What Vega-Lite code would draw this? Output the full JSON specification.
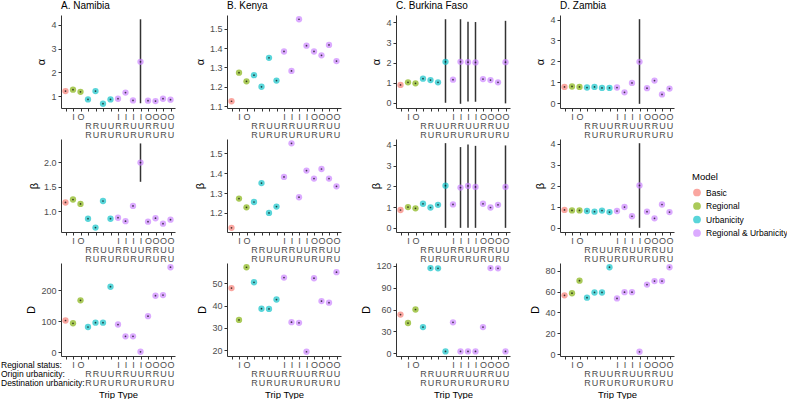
{
"$schema":"https://vega.github.io/schema/vega-lite/v6.json",
"padding":{"left":0,"top":1,"right":0,"bottom":0},
"background":"white",
"datasets":{
"trips":[{"t":1,"m":"Basic"},{"t":2,"m":"Regional"},{"t":3,"m":"Regional"},{"t":4,"m":"Urbanicity"},{"t":5,"m":"Urbanicity"},{"t":6,"m":"Urbanicity"},{"t":7,"m":"Urbanicity"},{"t":8,"m":"Regional & Urbanicity"},{"t":9,"m":"Regional & Urbanicity"},{"t":10,"m":"Regional & Urbanicity"},{"t":11,"m":"Regional & Urbanicity"},{"t":12,"m":"Regional & Urbanicity"},{"t":13,"m":"Regional & Urbanicity"},{"t":14,"m":"Regional & Urbanicity"},{"t":15,"m":"Regional & Urbanicity"}],
"vals":[
{"c":"Namibia","p":"a","t":1,"v":1.21},{"c":"Namibia","p":"a","t":2,"v":1.27},{"c":"Namibia","p":"a","t":3,"v":1.18},{"c":"Namibia","p":"a","t":4,"v":0.86},{"c":"Namibia","p":"a","t":5,"v":1.21},{"c":"Namibia","p":"a","t":6,"v":0.68},{"c":"Namibia","p":"a","t":7,"v":0.86},{"c":"Namibia","p":"a","t":8,"v":0.89},{"c":"Namibia","p":"a","t":9,"v":1.15},{"c":"Namibia","p":"a","t":10,"v":0.82},{"c":"Namibia","p":"a","t":11,"v":2.44,"lo":0.70,"hi":4.23},{"c":"Namibia","p":"a","t":12,"v":0.81},{"c":"Namibia","p":"a","t":13,"v":0.79},{"c":"Namibia","p":"a","t":14,"v":0.89},{"c":"Namibia","p":"a","t":15,"v":0.85},
{"c":"Namibia","p":"b","t":1,"v":1.18},{"c":"Namibia","p":"b","t":2,"v":1.24},{"c":"Namibia","p":"b","t":3,"v":1.15},{"c":"Namibia","p":"b","t":4,"v":0.85},{"c":"Namibia","p":"b","t":5,"v":0.67},{"c":"Namibia","p":"b","t":6,"v":1.21},{"c":"Namibia","p":"b","t":7,"v":0.85},{"c":"Namibia","p":"b","t":8,"v":0.87},{"c":"Namibia","p":"b","t":9,"v":0.80},{"c":"Namibia","p":"b","t":10,"v":1.11},{"c":"Namibia","p":"b","t":11,"v":1.99,"lo":1.60,"hi":2.38},{"c":"Namibia","p":"b","t":12,"v":0.79},{"c":"Namibia","p":"b","t":13,"v":0.86},{"c":"Namibia","p":"b","t":14,"v":0.75},{"c":"Namibia","p":"b","t":15,"v":0.83},
{"c":"Namibia","p":"D","t":1,"v":103},{"c":"Namibia","p":"D","t":2,"v":94},{"c":"Namibia","p":"D","t":3,"v":168},{"c":"Namibia","p":"D","t":4,"v":82},{"c":"Namibia","p":"D","t":5,"v":96},{"c":"Namibia","p":"D","t":6,"v":96},{"c":"Namibia","p":"D","t":7,"v":212},{"c":"Namibia","p":"D","t":8,"v":90},{"c":"Namibia","p":"D","t":9,"v":52},{"c":"Namibia","p":"D","t":10,"v":52},{"c":"Namibia","p":"D","t":11,"v":2},{"c":"Namibia","p":"D","t":12,"v":117},{"c":"Namibia","p":"D","t":13,"v":183},{"c":"Namibia","p":"D","t":14,"v":185},{"c":"Namibia","p":"D","t":15,"v":275},
{"c":"Kenya","p":"a","t":1,"v":1.125},{"c":"Kenya","p":"a","t":2,"v":1.273},{"c":"Kenya","p":"a","t":3,"v":1.228},{"c":"Kenya","p":"a","t":4,"v":1.26},{"c":"Kenya","p":"a","t":5,"v":1.20},{"c":"Kenya","p":"a","t":6,"v":1.35},{"c":"Kenya","p":"a","t":7,"v":1.232},{"c":"Kenya","p":"a","t":8,"v":1.383},{"c":"Kenya","p":"a","t":9,"v":1.282},{"c":"Kenya","p":"a","t":10,"v":1.55},{"c":"Kenya","p":"a","t":11,"v":1.413},{"c":"Kenya","p":"a","t":12,"v":1.383},{"c":"Kenya","p":"a","t":13,"v":1.363},{"c":"Kenya","p":"a","t":14,"v":1.417},{"c":"Kenya","p":"a","t":15,"v":1.333},
{"c":"Kenya","p":"b","t":1,"v":1.125},{"c":"Kenya","p":"b","t":2,"v":1.272},{"c":"Kenya","p":"b","t":3,"v":1.228},{"c":"Kenya","p":"b","t":4,"v":1.255},{"c":"Kenya","p":"b","t":5,"v":1.35},{"c":"Kenya","p":"b","t":6,"v":1.20},{"c":"Kenya","p":"b","t":7,"v":1.232},{"c":"Kenya","p":"b","t":8,"v":1.381},{"c":"Kenya","p":"b","t":9,"v":1.55},{"c":"Kenya","p":"b","t":10,"v":1.279},{"c":"Kenya","p":"b","t":11,"v":1.413},{"c":"Kenya","p":"b","t":12,"v":1.373},{"c":"Kenya","p":"b","t":13,"v":1.421},{"c":"Kenya","p":"b","t":14,"v":1.373},{"c":"Kenya","p":"b","t":15,"v":1.334},
{"c":"Kenya","p":"D","t":1,"v":47.8},{"c":"Kenya","p":"D","t":2,"v":33.6},{"c":"Kenya","p":"D","t":3,"v":57.1},{"c":"Kenya","p":"D","t":4,"v":50.4},{"c":"Kenya","p":"D","t":5,"v":38.6},{"c":"Kenya","p":"D","t":6,"v":38.5},{"c":"Kenya","p":"D","t":7,"v":42.7},{"c":"Kenya","p":"D","t":8,"v":52.5},{"c":"Kenya","p":"D","t":9,"v":32.6},{"c":"Kenya","p":"D","t":10,"v":32.3},{"c":"Kenya","p":"D","t":11,"v":19.4},{"c":"Kenya","p":"D","t":12,"v":52.2},{"c":"Kenya","p":"D","t":13,"v":42.0},{"c":"Kenya","p":"D","t":14,"v":41.3},{"c":"Kenya","p":"D","t":15,"v":54.9},
{"c":"Burkina","p":"a","t":1,"v":0.89},{"c":"Burkina","p":"a","t":2,"v":1.02},{"c":"Burkina","p":"a","t":3,"v":0.97},{"c":"Burkina","p":"a","t":4,"v":1.20},{"c":"Burkina","p":"a","t":5,"v":1.13},{"c":"Burkina","p":"a","t":6,"v":1.02},{"c":"Burkina","p":"a","t":7,"v":2.04,"lo":0.0,"hi":4.16},{"c":"Burkina","p":"a","t":8,"v":1.15},{"c":"Burkina","p":"a","t":9,"v":2.04,"lo":-0.05,"hi":4.16},{"c":"Burkina","p":"a","t":10,"v":2.02,"lo":0.06,"hi":4.03},{"c":"Burkina","p":"a","t":11,"v":2.01,"lo":0.05,"hi":4.02},{"c":"Burkina","p":"a","t":12,"v":1.18},{"c":"Burkina","p":"a","t":13,"v":1.13},{"c":"Burkina","p":"a","t":14,"v":1.02},{"c":"Burkina","p":"a","t":15,"v":2.02,"lo":-0.03,"hi":4.08},
{"c":"Burkina","p":"b","t":1,"v":0.86},{"c":"Burkina","p":"b","t":2,"v":1.0},{"c":"Burkina","p":"b","t":3,"v":0.94},{"c":"Burkina","p":"b","t":4,"v":1.16},{"c":"Burkina","p":"b","t":5,"v":0.98},{"c":"Burkina","p":"b","t":6,"v":1.11},{"c":"Burkina","p":"b","t":7,"v":2.03,"lo":0.0,"hi":4.08},{"c":"Burkina","p":"b","t":8,"v":1.13},{"c":"Burkina","p":"b","t":9,"v":1.94,"lo":0.0,"hi":3.89},{"c":"Burkina","p":"b","t":10,"v":2.02,"lo":0.0,"hi":4.02},{"c":"Burkina","p":"b","t":11,"v":1.97,"lo":0.0,"hi":3.95},{"c":"Burkina","p":"b","t":12,"v":1.16},{"c":"Burkina","p":"b","t":13,"v":0.98},{"c":"Burkina","p":"b","t":14,"v":1.11},{"c":"Burkina","p":"b","t":15,"v":1.97,"lo":0.0,"hi":3.97},
{"c":"Burkina","p":"D","t":1,"v":53},{"c":"Burkina","p":"D","t":2,"v":41.4},{"c":"Burkina","p":"D","t":3,"v":60},{"c":"Burkina","p":"D","t":4,"v":35.8},{"c":"Burkina","p":"D","t":5,"v":117},{"c":"Burkina","p":"D","t":6,"v":116.7},{"c":"Burkina","p":"D","t":7,"v":2.3},{"c":"Burkina","p":"D","t":8,"v":42.3},{"c":"Burkina","p":"D","t":9,"v":2.3},{"c":"Burkina","p":"D","t":10,"v":2.3},{"c":"Burkina","p":"D","t":11,"v":2.3},{"c":"Burkina","p":"D","t":12,"v":35.8},{"c":"Burkina","p":"D","t":13,"v":117},{"c":"Burkina","p":"D","t":14,"v":116.7},{"c":"Burkina","p":"D","t":15,"v":2.3},
{"c":"Zambia","p":"a","t":1,"v":0.78},{"c":"Zambia","p":"a","t":2,"v":0.80},{"c":"Zambia","p":"a","t":3,"v":0.78},{"c":"Zambia","p":"a","t":4,"v":0.75},{"c":"Zambia","p":"a","t":5,"v":0.78},{"c":"Zambia","p":"a","t":6,"v":0.73},{"c":"Zambia","p":"a","t":7,"v":0.73},{"c":"Zambia","p":"a","t":8,"v":0.75},{"c":"Zambia","p":"a","t":9,"v":0.52},{"c":"Zambia","p":"a","t":10,"v":0.97},{"c":"Zambia","p":"a","t":11,"v":1.98,"lo":-0.03,"hi":4.02},{"c":"Zambia","p":"a","t":12,"v":0.72},{"c":"Zambia","p":"a","t":13,"v":1.08},{"c":"Zambia","p":"a","t":14,"v":0.42},{"c":"Zambia","p":"a","t":15,"v":0.70},
{"c":"Zambia","p":"b","t":1,"v":0.85},{"c":"Zambia","p":"b","t":2,"v":0.83},{"c":"Zambia","p":"b","t":3,"v":0.83},{"c":"Zambia","p":"b","t":4,"v":0.80},{"c":"Zambia","p":"b","t":5,"v":0.77},{"c":"Zambia","p":"b","t":6,"v":0.82},{"c":"Zambia","p":"b","t":7,"v":0.75},{"c":"Zambia","p":"b","t":8,"v":0.80},{"c":"Zambia","p":"b","t":9,"v":0.99},{"c":"Zambia","p":"b","t":10,"v":0.55},{"c":"Zambia","p":"b","t":11,"v":2.02,"lo":0.0,"hi":4.03},{"c":"Zambia","p":"b","t":12,"v":0.77},{"c":"Zambia","p":"b","t":13,"v":0.45},{"c":"Zambia","p":"b","t":14,"v":1.11},{"c":"Zambia","p":"b","t":15,"v":0.75},
{"c":"Zambia","p":"D","t":1,"v":56.4},{"c":"Zambia","p":"D","t":2,"v":58.4},{"c":"Zambia","p":"D","t":3,"v":70.4},{"c":"Zambia","p":"D","t":4,"v":54.1},{"c":"Zambia","p":"D","t":5,"v":59.1},{"c":"Zambia","p":"D","t":6,"v":59.1},{"c":"Zambia","p":"D","t":7,"v":83.3},{"c":"Zambia","p":"D","t":8,"v":53.4},{"c":"Zambia","p":"D","t":9,"v":59.4},{"c":"Zambia","p":"D","t":10,"v":59.4},{"c":"Zambia","p":"D","t":11,"v":2.3},{"c":"Zambia","p":"D","t":12,"v":66.7},{"c":"Zambia","p":"D","t":13,"v":70.0},{"c":"Zambia","p":"D","t":14,"v":70.0},{"c":"Zambia","p":"D","t":15,"v":83.3}
]},
"data":{"name":"vals"},
"transform":[{"lookup":"t","from":{"data":{"name":"trips"},"key":"t","fields":["m"]}}],
"columns":4,
"align":"each",
"spacing":{"row":-2,"column":19},
"concat":[
{"title":"A. Namibia","width":114,"height":93,"transform":[{"filter":"datum.c=='Namibia'&&datum.p=='a'"}],
 "encoding":{"x":{"field":"t","type":"ordinal","scale":{"type":"point","padding":0.6},"axis":{"title":null,"labelExpr":"[['','',''],['I','',''],['O','',''],['','R','R'],['','R','U'],['','U','R'],['','U','U'],['I','R','R'],['I','R','U'],['I','U','R'],['I','U','U'],['O','R','R'],['O','R','U'],['O','U','R'],['O','U','U']][datum.value-1]"}},
  "y":{"field":"v","type":"quantitative","scale":{"domain":[0.5,4.41],"nice":false,"zero":false},"axis":{"title":"α","values":[1,2,3,4]}}},
 "layer":[
  {"transform":[{"filter":"isValid(datum.lo)"}],"mark":{"type":"rule","color":"#333333","strokeWidth":1.5},"encoding":{"y":{"field":"lo","type":"quantitative","scale":{"domain":[0.5,4.41],"nice":false,"zero":false},"axis":{"title":"α","values":[1,2,3,4]}},"y2":{"field":"hi"}}},
  {"mark":{"type":"point","filled":true,"size":40,"opacity":0.65},"encoding":{"color":{"field":"m","type":"nominal","scale":{"domain":["Basic","Regional","Urbanicity","Regional & Urbanicity"],"range":["#F8766D","#7CAE00","#00BFC4","#C77CFF"]},"legend":{"title":"Model","orient":"none","legendX":631,"legendY":157}}}},
  {"mark":{"type":"point","filled":true,"size":3,"color":"#000000","opacity":0.7}}
 ]},
{"title":"B. Kenya","width":114,"height":93,"transform":[{"filter":"datum.c=='Kenya'&&datum.p=='a'"}],
 "encoding":{"x":{"field":"t","type":"ordinal","scale":{"type":"point","padding":0.6},"axis":{"title":null,"labelExpr":"[['','',''],['I','',''],['O','',''],['','R','R'],['','R','U'],['','U','R'],['','U','U'],['I','R','R'],['I','R','U'],['I','U','R'],['I','U','U'],['O','R','R'],['O','R','U'],['O','U','R'],['O','U','U']][datum.value-1]"}},
  "y":{"field":"v","type":"quantitative","scale":{"domain":[1.09,1.572],"nice":false,"zero":false},"axis":{"title":"α","values":[1.1,1.2,1.3,1.4,1.5],"format":".1f"}}},
 "layer":[
  {"mark":{"type":"point","filled":true,"size":40,"opacity":0.65},"encoding":{"color":{"field":"m","type":"nominal","scale":{"domain":["Basic","Regional","Urbanicity","Regional & Urbanicity"],"range":["#F8766D","#7CAE00","#00BFC4","#C77CFF"]},"legend":{"title":"Model","orient":"none","legendX":631,"legendY":157}}}},
  {"mark":{"type":"point","filled":true,"size":3,"color":"#000000","opacity":0.7}}
 ]},
{"title":"C. Burkina Faso","width":114,"height":93,"transform":[{"filter":"datum.c=='Burkina'&&datum.p=='a'"}],
 "encoding":{"x":{"field":"t","type":"ordinal","scale":{"type":"point","padding":0.6},"axis":{"title":null,"labelExpr":"[['','',''],['I','',''],['O','',''],['','R','R'],['','R','U'],['','U','R'],['','U','U'],['I','R','R'],['I','R','U'],['I','U','R'],['I','U','U'],['O','R','R'],['O','R','U'],['O','U','R'],['O','U','U']][datum.value-1]"}},
  "y":{"field":"v","type":"quantitative","scale":{"domain":[-0.26,4.37],"nice":false,"zero":false},"axis":{"title":"α","values":[0,1,2,3,4]}}},
 "layer":[
  {"transform":[{"filter":"isValid(datum.lo)"}],"mark":{"type":"rule","color":"#333333","strokeWidth":1.5},"encoding":{"y":{"field":"lo","type":"quantitative","scale":{"domain":[-0.26,4.37],"nice":false,"zero":false},"axis":{"title":"α","values":[0,1,2,3,4]}},"y2":{"field":"hi"}}},
  {"mark":{"type":"point","filled":true,"size":40,"opacity":0.65},"encoding":{"color":{"field":"m","type":"nominal","scale":{"domain":["Basic","Regional","Urbanicity","Regional & Urbanicity"],"range":["#F8766D","#7CAE00","#00BFC4","#C77CFF"]},"legend":{"title":"Model","orient":"none","legendX":631,"legendY":157}}}},
  {"mark":{"type":"point","filled":true,"size":3,"color":"#000000","opacity":0.7}}
 ]},
{"title":"D. Zambia","width":114,"height":93,"transform":[{"filter":"datum.c=='Zambia'&&datum.p=='a'"}],
 "encoding":{"x":{"field":"t","type":"ordinal","scale":{"type":"point","padding":0.6},"axis":{"title":null,"labelExpr":"[['','',''],['I','',''],['O','',''],['','R','R'],['','R','U'],['','U','R'],['','U','U'],['I','R','R'],['I','R','U'],['I','U','R'],['I','U','U'],['O','R','R'],['O','R','U'],['O','U','R'],['O','U','U']][datum.value-1]"}},
  "y":{"field":"v","type":"quantitative","scale":{"domain":[-0.23,4.22],"nice":false,"zero":false},"axis":{"title":"α","values":[0,1,2,3,4]}}},
 "layer":[
  {"transform":[{"filter":"isValid(datum.lo)"}],"mark":{"type":"rule","color":"#333333","strokeWidth":1.5},"encoding":{"y":{"field":"lo","type":"quantitative","scale":{"domain":[-0.23,4.22],"nice":false,"zero":false},"axis":{"title":"α","values":[0,1,2,3,4]}},"y2":{"field":"hi"}}},
  {"mark":{"type":"point","filled":true,"size":40,"opacity":0.65},"encoding":{"color":{"field":"m","type":"nominal","scale":{"domain":["Basic","Regional","Urbanicity","Regional & Urbanicity"],"range":["#F8766D","#7CAE00","#00BFC4","#C77CFF"]},"legend":{"title":"Model","orient":"none","legendX":631,"legendY":157}}}},
  {"mark":{"type":"point","filled":true,"size":3,"color":"#000000","opacity":0.7}}
 ]},
{"width":114,"height":93,"transform":[{"filter":"datum.c=='Namibia'&&datum.p=='b'"}],
 "encoding":{"x":{"field":"t","type":"ordinal","scale":{"type":"point","padding":0.6},"axis":{"title":null,"labelExpr":"[['','',''],['I','',''],['O','',''],['','R','R'],['','R','U'],['','U','R'],['','U','U'],['I','R','R'],['I','R','U'],['I','U','R'],['I','U','U'],['O','R','R'],['O','R','U'],['O','U','R'],['O','U','U']][datum.value-1]"}},
  "y":{"field":"v","type":"quantitative","scale":{"domain":[0.58,2.47],"nice":false,"zero":false},"axis":{"title":"β","values":[1,1.5,2],"format":".1f"}}},
 "layer":[
  {"transform":[{"filter":"isValid(datum.lo)"}],"mark":{"type":"rule","color":"#333333","strokeWidth":1.5},"encoding":{"y":{"field":"lo","type":"quantitative","scale":{"domain":[0.58,2.47],"nice":false,"zero":false},"axis":{"title":"β","values":[1,1.5,2],"format":".1f"}},"y2":{"field":"hi"}}},
  {"mark":{"type":"point","filled":true,"size":40,"opacity":0.65},"encoding":{"color":{"field":"m","type":"nominal","scale":{"domain":["Basic","Regional","Urbanicity","Regional & Urbanicity"],"range":["#F8766D","#7CAE00","#00BFC4","#C77CFF"]},"legend":{"title":"Model","orient":"none","legendX":631,"legendY":157}}}},
  {"mark":{"type":"point","filled":true,"size":3,"color":"#000000","opacity":0.7}}
 ]},
{"width":114,"height":93,"transform":[{"filter":"datum.c=='Kenya'&&datum.p=='b'"}],
 "encoding":{"x":{"field":"t","type":"ordinal","scale":{"type":"point","padding":0.6},"axis":{"title":null,"labelExpr":"[['','',''],['I','',''],['O','',''],['','R','R'],['','R','U'],['','U','R'],['','U','U'],['I','R','R'],['I','R','U'],['I','U','R'],['I','U','U'],['O','R','R'],['O','R','U'],['O','U','R'],['O','U','U']][datum.value-1]"}},
  "y":{"field":"v","type":"quantitative","scale":{"domain":[1.104,1.572],"nice":false,"zero":false},"axis":{"title":"β","values":[1.2,1.3,1.4,1.5],"format":".1f"}}},
 "layer":[
  {"mark":{"type":"point","filled":true,"size":40,"opacity":0.65},"encoding":{"color":{"field":"m","type":"nominal","scale":{"domain":["Basic","Regional","Urbanicity","Regional & Urbanicity"],"range":["#F8766D","#7CAE00","#00BFC4","#C77CFF"]},"legend":{"title":"Model","orient":"none","legendX":631,"legendY":157}}}},
  {"mark":{"type":"point","filled":true,"size":3,"color":"#000000","opacity":0.7}}
 ]},
{"width":114,"height":93,"transform":[{"filter":"datum.c=='Burkina'&&datum.p=='b'"}],
 "encoding":{"x":{"field":"t","type":"ordinal","scale":{"type":"point","padding":0.6},"axis":{"title":null,"labelExpr":"[['','',''],['I','',''],['O','',''],['','R','R'],['','R','U'],['','U','R'],['','U','U'],['I','R','R'],['I','R','U'],['I','U','R'],['I','U','U'],['O','R','R'],['O','R','U'],['O','U','R'],['O','U','U']][datum.value-1]"}},
  "y":{"field":"v","type":"quantitative","scale":{"domain":[-0.2,4.28],"nice":false,"zero":false},"axis":{"title":"β","values":[0,1,2,3,4]}}},
 "layer":[
  {"transform":[{"filter":"isValid(datum.lo)"}],"mark":{"type":"rule","color":"#333333","strokeWidth":1.5},"encoding":{"y":{"field":"lo","type":"quantitative","scale":{"domain":[-0.2,4.28],"nice":false,"zero":false},"axis":{"title":"β","values":[0,1,2,3,4]}},"y2":{"field":"hi"}}},
  {"mark":{"type":"point","filled":true,"size":40,"opacity":0.65},"encoding":{"color":{"field":"m","type":"nominal","scale":{"domain":["Basic","Regional","Urbanicity","Regional & Urbanicity"],"range":["#F8766D","#7CAE00","#00BFC4","#C77CFF"]},"legend":{"title":"Model","orient":"none","legendX":631,"legendY":157}}}},
  {"mark":{"type":"point","filled":true,"size":3,"color":"#000000","opacity":0.7}}
 ]},
{"width":114,"height":93,"transform":[{"filter":"datum.c=='Zambia'&&datum.p=='b'"}],
 "encoding":{"x":{"field":"t","type":"ordinal","scale":{"type":"point","padding":0.6},"axis":{"title":null,"labelExpr":"[['','',''],['I','',''],['O','',''],['','R','R'],['','R','U'],['','U','R'],['','U','U'],['I','R','R'],['I','R','U'],['I','U','R'],['I','U','U'],['O','R','R'],['O','R','U'],['O','U','R'],['O','U','U']][datum.value-1]"}},
  "y":{"field":"v","type":"quantitative","scale":{"domain":[-0.2,4.23],"nice":false,"zero":false},"axis":{"title":"β","values":[0,1,2,3,4]}}},
 "layer":[
  {"transform":[{"filter":"isValid(datum.lo)"}],"mark":{"type":"rule","color":"#333333","strokeWidth":1.5},"encoding":{"y":{"field":"lo","type":"quantitative","scale":{"domain":[-0.2,4.23],"nice":false,"zero":false},"axis":{"title":"β","values":[0,1,2,3,4]}},"y2":{"field":"hi"}}},
  {"mark":{"type":"point","filled":true,"size":40,"opacity":0.65},"encoding":{"color":{"field":"m","type":"nominal","scale":{"domain":["Basic","Regional","Urbanicity","Regional & Urbanicity"],"range":["#F8766D","#7CAE00","#00BFC4","#C77CFF"]},"legend":{"title":"Model","orient":"none","legendX":631,"legendY":157}}}},
  {"mark":{"type":"point","filled":true,"size":3,"color":"#000000","opacity":0.7}}
 ]},
{"width":114,"height":93,"transform":[{"filter":"datum.c=='Namibia'&&datum.p=='D'"}],
 "encoding":{"x":{"field":"t","type":"ordinal","scale":{"type":"point","padding":0.6},"axis":{"title":"Trip Type","labelExpr":"datum.value==1 ? ['Regional status:','Origin urbanicity:','Destination urbanicity:'] : [['','',''],['I','',''],['O','',''],['','R','R'],['','R','U'],['','U','R'],['','U','U'],['I','R','R'],['I','R','U'],['I','U','R'],['I','U','U'],['O','R','R'],['O','R','U'],['O','U','R'],['O','U','U']][datum.value-1]","labelAlign":{"condition":{"test":"datum.value==1","value":"left"},"value":"center"},"labelOffset":{"condition":{"test":"datum.value==1","value":-65},"value":0},"labelColor":{"condition":{"test":"datum.value==1","value":"#000000"},"value":"#4D4D4D"},"labelFontSize":{"condition":{"test":"datum.value==1","value":8.5},"value":9}}},
  "y":{"field":"v","type":"quantitative","scale":{"domain":[-11.6,288.6],"nice":false,"zero":false},"axis":{"title":"D","values":[0,100,200]}}},
 "layer":[
  {"mark":{"type":"point","filled":true,"size":40,"opacity":0.65},"encoding":{"color":{"field":"m","type":"nominal","scale":{"domain":["Basic","Regional","Urbanicity","Regional & Urbanicity"],"range":["#F8766D","#7CAE00","#00BFC4","#C77CFF"]},"legend":{"title":"Model","orient":"none","legendX":631,"legendY":157}}}},
  {"mark":{"type":"point","filled":true,"size":3,"color":"#000000","opacity":0.7}}
 ]},
{"width":114,"height":93,"transform":[{"filter":"datum.c=='Kenya'&&datum.p=='D'"}],
 "encoding":{"x":{"field":"t","type":"ordinal","scale":{"type":"point","padding":0.6},"axis":{"title":"Trip Type","labelExpr":"[['','',''],['I','',''],['O','',''],['','R','R'],['','R','U'],['','U','R'],['','U','U'],['I','R','R'],['I','R','U'],['I','U','R'],['I','U','U'],['O','R','R'],['O','R','U'],['O','U','R'],['O','U','U']][datum.value-1]"}},
  "y":{"field":"v","type":"quantitative","scale":{"domain":[17.5,59],"nice":false,"zero":false},"axis":{"title":"D","values":[20,30,40,50]}}},
 "layer":[
  {"mark":{"type":"point","filled":true,"size":40,"opacity":0.65},"encoding":{"color":{"field":"m","type":"nominal","scale":{"domain":["Basic","Regional","Urbanicity","Regional & Urbanicity"],"range":["#F8766D","#7CAE00","#00BFC4","#C77CFF"]},"legend":{"title":"Model","orient":"none","legendX":631,"legendY":157}}}},
  {"mark":{"type":"point","filled":true,"size":3,"color":"#000000","opacity":0.7}}
 ]},
{"width":114,"height":93,"transform":[{"filter":"datum.c=='Burkina'&&datum.p=='D'"}],
 "encoding":{"x":{"field":"t","type":"ordinal","scale":{"type":"point","padding":0.6},"axis":{"title":"Trip Type","labelExpr":"[['','',''],['I','',''],['O','',''],['','R','R'],['','R','U'],['','U','R'],['','U','U'],['I','R','R'],['I','R','U'],['I','U','R'],['I','U','U'],['O','R','R'],['O','R','U'],['O','U','R'],['O','U','U']][datum.value-1]"}},
  "y":{"field":"v","type":"quantitative","scale":{"domain":[-4,124],"nice":false,"zero":false},"axis":{"title":"D","values":[0,30,60,90,120]}}},
 "layer":[
  {"mark":{"type":"point","filled":true,"size":40,"opacity":0.65},"encoding":{"color":{"field":"m","type":"nominal","scale":{"domain":["Basic","Regional","Urbanicity","Regional & Urbanicity"],"range":["#F8766D","#7CAE00","#00BFC4","#C77CFF"]},"legend":{"title":"Model","orient":"none","legendX":631,"legendY":157}}}},
  {"mark":{"type":"point","filled":true,"size":3,"color":"#000000","opacity":0.7}}
 ]},
{"width":114,"height":93,"transform":[{"filter":"datum.c=='Zambia'&&datum.p=='D'"}],
 "encoding":{"x":{"field":"t","type":"ordinal","scale":{"type":"point","padding":0.6},"axis":{"title":"Trip Type","labelExpr":"[['','',''],['I','',''],['O','',''],['','R','R'],['','R','U'],['','U','R'],['','U','U'],['I','R','R'],['I','R','U'],['I','U','R'],['I','U','U'],['O','R','R'],['O','R','U'],['O','U','R'],['O','U','U']][datum.value-1]"}},
  "y":{"field":"v","type":"quantitative","scale":{"domain":[-1.75,87.35],"nice":false,"zero":false},"axis":{"title":"D","values":[0,20,40,60,80]}}},
 "layer":[
  {"mark":{"type":"point","filled":true,"size":40,"opacity":0.65},"encoding":{"color":{"field":"m","type":"nominal","scale":{"domain":["Basic","Regional","Urbanicity","Regional & Urbanicity"],"range":["#F8766D","#7CAE00","#00BFC4","#C77CFF"]},"legend":{"title":"Model","orient":"none","legendX":631,"legendY":157}}}},
  {"mark":{"type":"point","filled":true,"size":3,"color":"#000000","opacity":0.7}}
 ]}
],
"config":{
 "view":{"stroke":null},
 "font":"Liberation Sans",
 "axis":{"grid":false,"domainColor":"#333333","tickColor":"#333333","tickSize":3,"labelColor":"#4D4D4D","labelFont":"Liberation Sans","labelFontSize":9,"titleFont":"Liberation Sans","titleFontSize":11,"titleFontWeight":"normal","titleColor":"#000000","labelPadding":2,"titlePadding":4},
 "axisX":{"labelAngle":0,"labelOverlap":false,"labelPadding":1,"labelLineHeight":9,"labelFlush":false,"titlePadding":2,"titleFontSize":9.5},
 "title":{"font":"Liberation Sans","fontSize":10,"fontWeight":"normal","anchor":"start","frame":"group","offset":4,"color":"#000000"},
 "legend":{"titleFont":"Liberation Sans","titleFontSize":9.5,"titleFontWeight":"normal","titleColor":"#000000","labelFont":"Liberation Sans","labelFontSize":8.5,"labelColor":"#000000","symbolSize":60,"rowPadding":3.5,"titlePadding":6}
}
}
